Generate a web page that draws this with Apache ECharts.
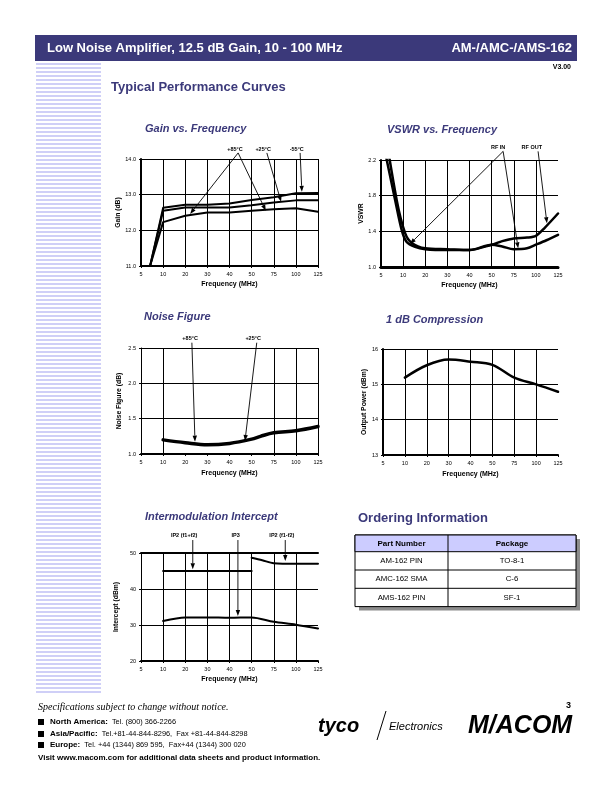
<!DOCTYPE html>
<html><head><meta charset="utf-8">
<script src="https://cdn.jsdelivr.net/npm/echarts@6.0.0/dist/echarts.min.js"></script>
<style>html,body{margin:0;padding:0;background:#fff}#c{width:612px;height:792px}</style>
</head><body><div id="c"></div>
<script>
// ---------- data ----------
const freqTicks = [5, 10, 20, 30, 40, 50, 75, 100, 125];

const gainFreq = [5, 10, 20, 30, 40, 50, 75, 100, 125];
const gainM55 = [9.86, 12.63, 12.72, 12.72, 12.75, 12.85, 12.93, 13.04, 13.05];
const gainP25 = [9.92, 12.55, 12.64, 12.64, 12.64, 12.70, 12.78, 12.84, 12.84];
const gainP85 = [10.15, 12.23, 12.41, 12.50, 12.50, 12.55, 12.59, 12.62, 12.52];
const gainTicks = [11, 12, 13, 14];

const rfInFreq = [5, 8.2, 9.7, 11.6, 15.4, 20, 30, 40, 50, 62, 75, 90, 100, 112, 125];
const rfIn = [2.51, 1.75, 1.41, 1.28, 1.225, 1.20, 1.19, 1.19, 1.25, 1.23, 1.20, 1.21, 1.25, 1.30, 1.36];
const rfOutFreq = [5, 8.55, 10.9, 13.9, 20, 30, 40, 50, 62, 75, 90, 100, 110, 125];
const rfOut = [2.81, 1.75, 1.38, 1.27, 1.21, 1.20, 1.19, 1.25, 1.29, 1.32, 1.33, 1.35, 1.44, 1.60];
const vswrTicks = [1.0, 1.4, 1.8, 2.2];

const nfFreq = [10, 20, 30, 40, 50, 60, 75, 100, 125];
const nf = [1.20, 1.16, 1.13, 1.15, 1.21, 1.25, 1.30, 1.33, 1.39];
const nfTicks = [1.0, 1.5, 2.0, 2.5];

const p1dbFreq = [10, 20, 30, 40, 50, 75, 100, 125];
const p1db = [15.19, 15.54, 15.70, 15.64, 15.55, 15.19, 15.0, 14.79];
const p1dbTicks = [13, 14, 15, 16];

const ip2SumFreq = [10, 50];
const ip2Sum = [45, 45];
const ip2DiffFreq = [50, 62, 75, 100, 125];
const ip2Diff = [48.7, 48.0, 47.15, 47.0, 47.0];
const ip3Freq = [10, 20, 30, 40, 50, 75, 100, 125];
const ip3 = [31.1, 32.1, 32.1, 32.0, 32.1, 30.9, 30.1, 29.0];
const imTicks = [20, 30, 40, 50];

const orderParts = ['AM-162 PIN', 'AMC-162 SMA', 'AMS-162 PIN'];
const orderPackages = ['TO-8-1', 'C-6', 'SF-1'];

// annotations (frequency MHz, value)
const gainNotes = [
  {text: '+85°C', label: [42.5, 14.28], from: [43.9, 14.17], to: [[22.2, 12.46], [66, 12.55]]},
  {text: '+25°C', label: [63, 14.28], from: [67.2, 14.17], to: [[83.3, 12.80]]},
  {text: '-55°C', label: [101, 14.28], from: [104.8, 14.17], to: [[106.8, 13.08]]}
];
const vswrNotes = [
  {text: 'RF IN', label: [57.3, 2.338], from: [63, 2.297], to: [[13.1, 1.258], [80, 1.21]]},
  {text: 'RF OUT', label: [95.4, 2.338], from: [102.5, 2.297], to: [[112.5, 1.49]]}
];
const nfNotes = [
  {text: '+85°C', label: [22.2, 2.632], from: [23, 2.575], to: [[24.4, 1.175]]},
  {text: '+25°C', label: [51.7, 2.632], from: [55.8, 2.575], to: [[47, 1.185]]}
];
const imNotes = [
  {text: 'IP2 (f1+f2)', label: [19.5, 55.0], from: [23.4, 53.6], to: [[23.4, 45.5]]},
  {text: 'IP3', label: [42.8, 55.0], from: [43.8, 53.6], to: [[43.8, 32.5]]},
  {text: 'IP2 (f1-f2)', label: [84.2, 55.0], from: [88, 53.6], to: [[88, 47.8]]}
];

// ---------- helpers ----------
const FONT = '"Liberation Sans", Arial, sans-serif';
const NAVY = '#3b397a';
function pos(f) {
  for (let i = 0; i < freqTicks.length - 1; i++) {
    if (f <= freqTicks[i + 1]) return i + (f - freqTicks[i]) / (freqTicks[i + 1] - freqTicks[i]);
  }
  return freqTicks.length - 1;
}
function pts(fs, vs) { return fs.map((f, i) => [pos(f), vs[i]]); }

const grids = [
  {left: 141, top: 159, width: 177, height: 107},
  {left: 381, top: 160, width: 177, height: 107},
  {left: 141, top: 348, width: 177, height: 106},
  {left: 383, top: 349, width: 175, height: 106},
  {left: 141, top: 553, width: 177, height: 108}
];

const K = '#000', T = 'rgba(0,0,0,0)';
function xAx(gi, colors, bw, gap) {
  return {
    type: 'value', gridIndex: gi, min: 0, max: freqTicks.length - 1, interval: 1,
    axisLine: {show: true, onZero: false, lineStyle: {color: K, width: bw}},
    axisTick: {show: true, length: 2, lineStyle: {color: K, width: 1}},
    axisLabel: {formatter: v => String(freqTicks[v]), fontSize: 5.5, color: K, fontFamily: FONT, margin: 5},
    splitLine: {show: true, lineStyle: {color: colors, width: 1}},
    name: 'Frequency (MHz)', nameLocation: 'middle', nameGap: gap,
    nameTextStyle: {fontSize: 7, fontWeight: 'bold', color: K, fontFamily: FONT}
  };
}
function yAx(gi, ticks, dec, name, bw, gap, colors) {
  return {
    type: 'value', gridIndex: gi, min: ticks[0], max: ticks[ticks.length - 1], interval: ticks[1] - ticks[0],
    axisLine: {show: true, onZero: false, lineStyle: {color: K, width: bw}},
    axisTick: {show: true, length: 2, lineStyle: {color: K, width: 1}},
    axisLabel: {formatter: v => v.toFixed(dec), fontSize: 5.5, color: K, fontFamily: FONT, margin: 5},
    splitLine: {show: true, lineStyle: {color: colors || K, width: 1}},
    name: name, nameLocation: 'middle', nameGap: gap,
    nameTextStyle: {fontSize: 6.8, fontWeight: 'bold', color: K, fontFamily: FONT}
  };
}
function lineS(i, fs, vs, w, smooth) {
  return {type: 'line', xAxisIndex: i, yAxisIndex: i, data: pts(fs, vs), symbol: 'none', smooth: smooth,
    lineStyle: {color: K, width: w, cap: 'round', join: 'round'}, clip: true, silent: true, z: 3};
}
function noteS(i, notes, fs) {
  return {
    type: 'custom', xAxisIndex: i, yAxisIndex: i, clip: false, silent: true, z: 6,
    data: notes.map(n => [pos(n.from[0]), n.from[1]]),
    renderItem: (params, api) => {
      const n = notes[params.dataIndex];
      const ch = [];
      const lp = api.coord([pos(n.label[0]), n.label[1]]);
      ch.push({type: 'text', style: {text: n.text, x: lp[0], y: lp[1], align: 'center', verticalAlign: 'middle',
        font: 'bold ' + fs + 'px ' + FONT, fill: K}});
      const fp = api.coord([pos(n.from[0]), n.from[1]]);
      n.to.forEach(t => {
        const tp = api.coord([pos(t[0]), t[1]]);
        const a = Math.atan2(tp[1] - fp[1], tp[0] - fp[0]);
        const L = 6, W = 2.2;
        const bx = tp[0] - L * Math.cos(a), by = tp[1] - L * Math.sin(a);
        const px = -Math.sin(a) * W, py = Math.cos(a) * W;
        ch.push({type: 'line', shape: {x1: fp[0], y1: fp[1], x2: bx, y2: by}, style: {stroke: K, lineWidth: 0.9}});
        ch.push({type: 'polygon', shape: {points: [[tp[0], tp[1]], [bx + px, by + py], [bx - px, by - py]]}, style: {fill: K}});
      });
      return {type: 'group', children: ch};
    }
  };
}

const allK = freqTicks.map(() => K);
const noRight = freqTicks.map((f, i) => i === freqTicks.length - 1 ? T : K);
const nfCols = freqTicks.map(f => (f === 10 || f === 75 || f === 100 || f === 125) ? K : T);

const xAxes = [
  xAx(0, allK, 2, 15),
  xAx(1, noRight, 3, 15),
  xAx(2, nfCols, 2, 16),
  xAx(3, noRight, 2, 16),
  xAx(4, noRight, 2, 15),
  {type: 'value', gridIndex: 4, position: 'top', min: 0, max: 8, interval: 1,
   axisLine: {show: true, lineStyle: {color: K, width: 2}}, axisTick: {show: false}, axisLabel: {show: false}, splitLine: {show: false}}
];
const yAxes = [
  yAx(0, gainTicks, 1, 'Gain (dB)', 2, 18),
  yAx(1, vswrTicks, 1, 'VSWR', 2, 14),
  yAx(2, nfTicks, 1, 'Noise Figure (dB)', 1, 18),
  yAx(3, p1dbTicks, 0, 'Output Power (dBm)', 2, 14),
  yAx(4, imTicks, 0, 'Intercept (dBm)', 1, 21)
];

const series = [
  lineS(0, gainFreq, gainM55, 2, false),
  lineS(0, gainFreq, gainP25, 2, false),
  lineS(0, gainFreq, gainP85, 2, false),
  noteS(0, gainNotes, 5.5),
  lineS(1, rfInFreq, rfIn, 2.5, 0.3),
  lineS(1, rfOutFreq, rfOut, 2.5, 0.3),
  noteS(1, vswrNotes, 5.5),
  lineS(2, nfFreq, nf, 3.5, 0.35),
  noteS(2, nfNotes, 5.5),
  lineS(3, p1dbFreq, p1db, 2.5, 0.35),
  lineS(4, ip2SumFreq, ip2Sum, 2, false),
  lineS(4, ip2DiffFreq, ip2Diff, 2, 0.3),
  lineS(4, ip3Freq, ip3, 2, 0.3),
  noteS(4, imNotes, 5.5)
];

// ---------- page graphics ----------
const g = [];
for (let y = 63; y < 695; y += 4) g.push({type: 'rect', shape: {x: 36, y: y, width: 65, height: 2}, style: {fill: '#cfcff7'}, silent: true});
g.push({type: 'rect', shape: {x: 35, y: 35, width: 542, height: 26}, style: {fill: NAVY}});
g.push({type: 'text', style: {text: 'Low Noise Amplifier, 12.5 dB Gain, 10 - 100 MHz', x: 47, y: 48, verticalAlign: 'middle', font: 'bold 13px ' + FONT, fill: '#fff'}});
g.push({type: 'text', style: {text: 'AM-/AMC-/AMS-162', x: 572, y: 48, align: 'right', verticalAlign: 'middle', font: 'bold 13px ' + FONT, fill: '#fff'}});
g.push({type: 'text', style: {text: 'V3.00', x: 571, y: 67, align: 'right', verticalAlign: 'middle', font: 'bold 7px ' + FONT, fill: K}});
g.push({type: 'text', style: {text: 'Typical Performance Curves', x: 111, y: 87, verticalAlign: 'middle', font: 'bold 13px ' + FONT, fill: NAVY}});
const titles = [
  ['Gain vs. Frequency', 145, 129],
  ['VSWR vs. Frequency', 387, 130],
  ['Noise Figure', 144, 317],
  ['1 dB Compression', 386, 320],
  ['Intermodulation Intercept', 145, 517]
];
titles.forEach(t => g.push({type: 'text', style: {text: t[0], x: t[1], y: t[2], verticalAlign: 'middle', font: 'italic bold 11px ' + FONT, fill: NAVY}}));
g.push({type: 'text', style: {text: 'Ordering Information', x: 358, y: 518, verticalAlign: 'middle', font: 'bold 13px ' + FONT, fill: NAVY}});

const tx = 355, ty = 535, tw = 221, hh = 16.7, rh = 18.3, cx = 448;
const th = hh + rh * orderParts.length;
g.push({type: 'rect', shape: {x: tx + 4, y: ty + 4, width: tw, height: th}, style: {fill: '#8c8c8c'}});
g.push({type: 'rect', shape: {x: tx, y: ty, width: tw, height: th}, style: {fill: '#fff', stroke: K, lineWidth: 1}});
g.push({type: 'rect', shape: {x: tx, y: ty, width: tw, height: hh}, style: {fill: '#ccccff', stroke: K, lineWidth: 1}});
g.push({type: 'line', shape: {x1: cx, y1: ty, x2: cx, y2: ty + th}, style: {stroke: K, lineWidth: 1}});
g.push({type: 'text', style: {text: 'Part Number', x: (tx + cx) / 2, y: ty + hh / 2, align: 'center', verticalAlign: 'middle', font: 'bold 8px ' + FONT, fill: K}});
g.push({type: 'text', style: {text: 'Package', x: (cx + tx + tw) / 2, y: ty + hh / 2, align: 'center', verticalAlign: 'middle', font: 'bold 8px ' + FONT, fill: K}});
orderParts.forEach((p, i) => {
  const y0 = ty + hh + rh * i;
  if (i > 0) g.push({type: 'line', shape: {x1: tx, y1: y0, x2: tx + tw, y2: y0}, style: {stroke: K, lineWidth: 1}});
  g.push({type: 'text', style: {text: p, x: (tx + cx) / 2, y: y0 + rh / 2, align: 'center', verticalAlign: 'middle', font: '7.8px ' + FONT, fill: K}});
  g.push({type: 'text', style: {text: orderPackages[i], x: (cx + tx + tw) / 2, y: y0 + rh / 2, align: 'center', verticalAlign: 'middle', font: '7.8px ' + FONT, fill: K}});
});

g.push({type: 'text', style: {text: 'Specifications subject to change without notice.', x: 38, y: 707, verticalAlign: 'middle', font: 'italic 10px "Liberation Serif", serif', fill: K}});
const contacts = [
  ['North America:', 'Tel. (800) 366-2266', 722],
  ['Asia/Pacific:', 'Tel.+81-44-844-8296,  Fax +81-44-844-8298', 734],
  ['Europe:', 'Tel. +44 (1344) 869 595,  Fax+44 (1344) 300 020', 745]
];
contacts.forEach(c => {
  g.push({type: 'rect', shape: {x: 38, y: c[2] - 3, width: 6, height: 6}, style: {fill: K}});
  g.push({type: 'text', style: {text: '{b|' + c[0] + '}  ' + c[1], x: 50, y: c[2], verticalAlign: 'middle',
    font: '7.4px ' + FONT, fill: K, rich: {b: {fontWeight: 'bold', fontSize: 8, fontFamily: FONT, fill: K}}}});
});
g.push({type: 'text', style: {text: 'Visit www.macom.com for additional data sheets and product information.', x: 38, y: 758, verticalAlign: 'middle', font: 'bold 8px ' + FONT, fill: K}});
g.push({type: 'text', style: {text: '3', x: 571, y: 706, align: 'right', verticalAlign: 'middle', font: 'bold 9px ' + FONT, fill: K}});
g.push({type: 'text', style: {text: 'tyco', x: 318, y: 726, verticalAlign: 'middle', font: 'italic bold 20px ' + FONT, fill: K}});
g.push({type: 'line', shape: {x1: 377, y1: 740, x2: 386, y2: 711}, style: {stroke: K, lineWidth: 1}});
g.push({type: 'text', style: {text: 'Electronics', x: 389, y: 727, verticalAlign: 'middle', font: 'italic 11px ' + FONT, fill: K}});
g.push({type: 'text', style: {text: 'M/ACOM', x: 468, y: 726, verticalAlign: 'middle', font: 'italic bold 25px ' + FONT, fill: K}});

const chart = echarts.init(document.getElementById('c'), null, {renderer: 'canvas'});
chart.setOption({
  animation: false,
  backgroundColor: '#fff',
  grid: grids.map(gr => Object.assign({containLabel: false}, gr)),
  xAxis: xAxes,
  yAxis: yAxes,
  series: series,
  graphic: {elements: g}
});
</script></body></html>
